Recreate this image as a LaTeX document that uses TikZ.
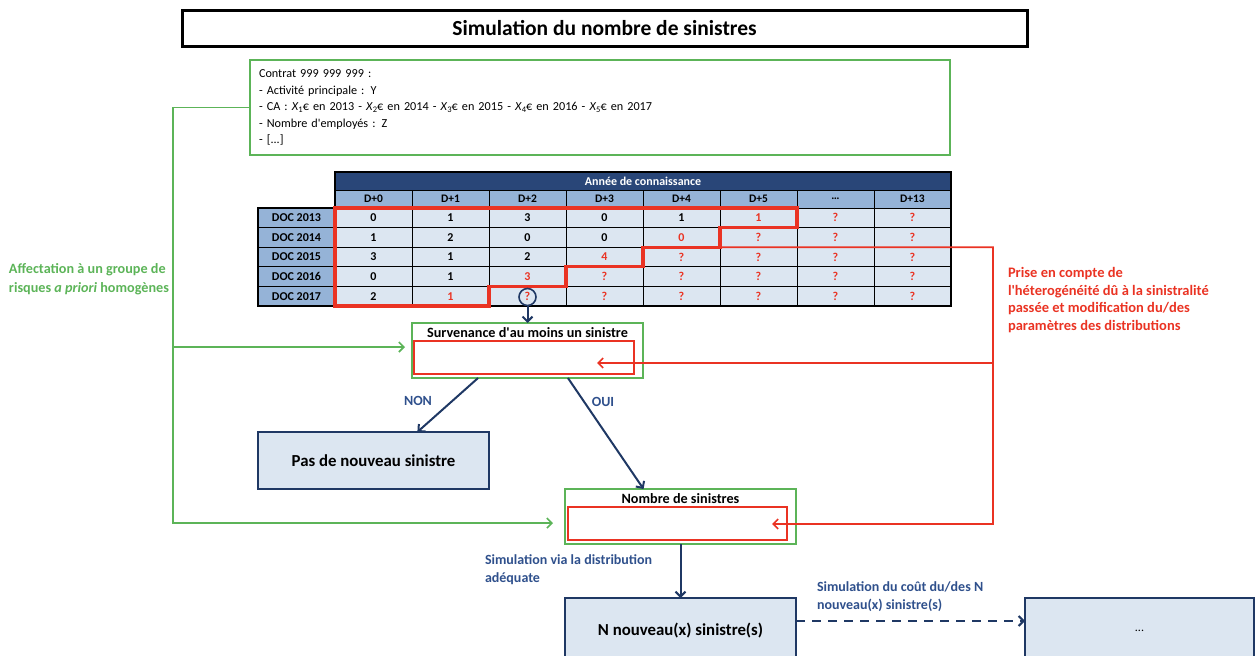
\documentclass[tikz,border=0pt]{standalone}
\usepackage{fontspec}
\setmainfont{Carlito}
\usetikzlibrary{arrows.meta,calc}
\definecolor{myred}{RGB}{234,51,35}
\definecolor{mygreen}{RGB}{92,180,88}
\definecolor{dblue}{RGB}{31,56,100}
\definecolor{hdrblue}{RGB}{41,70,120}
\definecolor{lblue}{RGB}{149,179,215}
\definecolor{cellfill}{RGB}{220,230,241}
\definecolor{txtblue}{RGB}{47,80,140}
\colorlet{tk}{black}
\colorlet{tr}{myred}
\newcommand\fsz[2]{\fontsize{#1}{#2}\selectfont}
\newcommand\xsub[1]{\textit{X}\raisebox{-0.35ex}{\fsz{8.5}{9}\selectfont #1}}
\newcommand\tabrow[3]{%
  \node[lcell] (l-#1) at (296.5,{217.8+19.6*#1}) {DOC #2};
  \foreach \val/\col [count=\j] in {#3}
    {\node[tcell,text=\col] (c-#1-\j) at ({296.5+77*\j},{217.8+19.6*#1}) {\val};}
}
\begin{document}
\begin{tikzpicture}[x=1pt,y=-1pt,
  every node/.style={inner sep=0pt,outer sep=0pt},
  tcell/.style={draw=black, line width=0.8pt, minimum width=77pt, minimum height=19.6pt, fill=cellfill, font=\fsz{12}{14}\bfseries},
  hcell/.style={tcell, fill=lblue, minimum height=18pt, font=\fsz{11.5}{13}\bfseries},
  lcell/.style={tcell, fill=lblue, font=\fsz{12}{14}\bfseries},
  gbox/.style={draw=mygreen, line width=2pt, minimum width=231pt, minimum height=55pt},
  rbox/.style={draw=myred, line width=2pt, minimum height=33pt},
  bbox/.style={draw=dblue, line width=2.2pt, fill=cellfill, font=\fsz{16.8}{19}\bfseries},
  boxtitle/.style={font=\fsz{14.2}{16}\bfseries},
  gline/.style={draw=mygreen, line width=1.6pt},
  garrow/.style={gline, -{Straight Barb[length=5pt,width=10pt]}},
  rline/.style={draw=myred, line width=1.6pt},
  rarrow/.style={rline, -{Straight Barb[length=5pt,width=10pt]}},
  barrow/.style={draw=dblue, line width=2pt, -{Straight Barb[length=5pt,width=10pt]}},
  lbl/.style={text=txtblue, font=\fsz{14}{18}\bfseries, align=left}]
\useasboundingbox (0,0) rectangle (1256,656);

% title
\node[draw=black, line width=3pt, minimum width=845pt, minimum height=36pt, font=\fsz{21.5}{24}\bfseries] (title) at (604.5,28) {Simulation du nombre de sinistres};

% contract box
\node[draw=mygreen, line width=2pt, minimum width=700pt, minimum height=95pt, text width=682pt, align=left, font=\fsz{12.2}{16.5}] (contract) at (600,107.5)
 {Contrat 999 999 999 :\\
  - Activité principale : Y\\
  - CA : \xsub{1}€ en 2013 - \xsub{2}€ en 2014 - \xsub{3}€ en 2015 - \xsub{4}€ en 2016 - \xsub{5}€ en 2017\\
  - Nombre d\textquotesingle employés : Z\\
  - [...]};

% table
\node[fill=hdrblue, draw=black, line width=0.8pt, minimum width=616pt, minimum height=18pt, text=white, font=\fsz{12}{13}\bfseries] (hdr) at (643,181) {Année de connaissance};
\foreach \h [count=\j] in {D+0,D+1,D+2,D+3,D+4,D+5,\ldots,D+13}
  {\node[hcell] (h-\j) at ({296.5+77*\j},199) {\h};}
\tabrow{0}{2013}{0/tk,1/tk,3/tk,0/tk,1/tk,1/tr,?/tr,?/tr}
\tabrow{1}{2014}{1/tk,2/tk,0/tk,0/tk,0/tr,?/tr,?/tr,?/tr}
\tabrow{2}{2015}{3/tk,1/tk,2/tk,4/tr,?/tr,?/tr,?/tr,?/tr}
\tabrow{3}{2016}{0/tk,1/tk,3/tr,?/tr,?/tr,?/tr,?/tr,?/tr}
\tabrow{4}{2017}{2/tk,1/tr,?/tr,?/tr,?/tr,?/tr,?/tr,?/tr}
\draw[line width=2pt] (335,172) -- (951,172) -- (951,306) -- (258,306) -- (258,208) -- (335,208) -- cycle;
\draw[line width=2pt] (335,172) -- (335,306);
\draw[myred, line width=3.2pt, line join=miter] (335,208) -- (797,208) -- (797,227.6) -- (720,227.6) -- (720,247.2) -- (643,247.2) -- (643,266.8) -- (566,266.8) -- (566,286.4) -- (489,286.4) -- (489,306) -- (335,306) -- cycle;
\node[circle, draw=dblue, line width=1.6pt, minimum size=17pt] (circ) at (527.5,297) {};

% side labels
\node[text=mygreen, font=\fsz{14.2}{18.5}\bfseries, align=left, anchor=west] (leftlbl) at (9,279) {Affectation à un groupe de\\risques \textit{a priori} homogènes};
\node[text=myred, font=\fsz{14.5}{17.8}\bfseries, align=left, anchor=west] (rightlbl) at (1008,300) {Prise en compte de\\l\textquotesingle héterogénéité dû à la sinistralité\\passée et modification du/des\\paramètres des distributions};

% survenance
\node[gbox] (surv) at (527.5,350.5) {};
\node[boxtitle] (survt) at (527.5,333) {Survenance d\textquotesingle au moins un sinistre};
\node[rbox, minimum width=220pt] (survr) at (524,357.5) {};

% pas de nouveau sinistre
\node[bbox, minimum width=231pt, minimum height=57pt] (pas) at (373.5,460.5) {Pas de nouveau sinistre};

% nombre de sinistres
\node[gbox] (nomb) at (680.5,516.5) {};
\node[boxtitle] (nombt) at (680.5,499) {Nombre de sinistres};
\node[rbox, minimum width=219pt] (nombr) at (677.5,523.5) {};

% bottom boxes
\node[bbox, minimum width=231pt, minimum height=66pt] (nbox) at (680.5,631) {N nouveau(x) sinistre(s)};
\node[bbox, minimum width=229pt, minimum height=66pt, font=\fsz{12}{13}] (dots) at (1139.5,631) {...};

% labels
\node[lbl] (non) at (418,401) {NON};
\node[lbl] (oui) at (603,402) {OUI};
\node[lbl, anchor=west] (simlbl) at (485,570) {Simulation via la distribution\\adéquate};
\node[lbl, anchor=west] (coutlbl) at (817,597) {Simulation du coût du/des N\\nouveau(x) sinistre(s)};

% green connectors
\coordinate (g1) at (173,107.5);
\coordinate (g2) at (173,347);
\coordinate (g3) at (173,523);
\draw[garrow, shorten >=12pt] (contract.west) -- (g1) -- (g3) -- (g3 -| nomb.west);
\draw[garrow, shorten >=7pt] (g2) -- (g2 -| surv.west);

% red connectors
\coordinate (r1) at (993,247.2);
\coordinate (r2) at (993,363);
\coordinate (r3) at (993,524);
\coordinate (rt1) at (597,363);
\coordinate (rt2) at (772,524);
\draw[rarrow] (c-2-6.north west) -- (r1) -- (r3) -- (rt2);
\draw[rarrow] (r2) -- (rt1);

% blue connectors
\draw[barrow] (circ.south) -- (surv.north);
\draw[barrow] ($(surv.south west)!0.286!(surv.south east)$) -- ($(pas.north west)!0.69!(pas.north east)$);
\draw[barrow] ($(surv.south west)!0.675!(surv.south east)$) -- ($(nomb.north west)!0.34!(nomb.north east)$);
\draw[barrow] (nomb.south) -- (nbox.north);
\coordinate (dsh) at (0,621);
\draw[barrow, dash pattern=on 9pt off 7pt] (nbox.east |- dsh) -- (dots.west |- dsh);
\end{tikzpicture}
\end{document}
